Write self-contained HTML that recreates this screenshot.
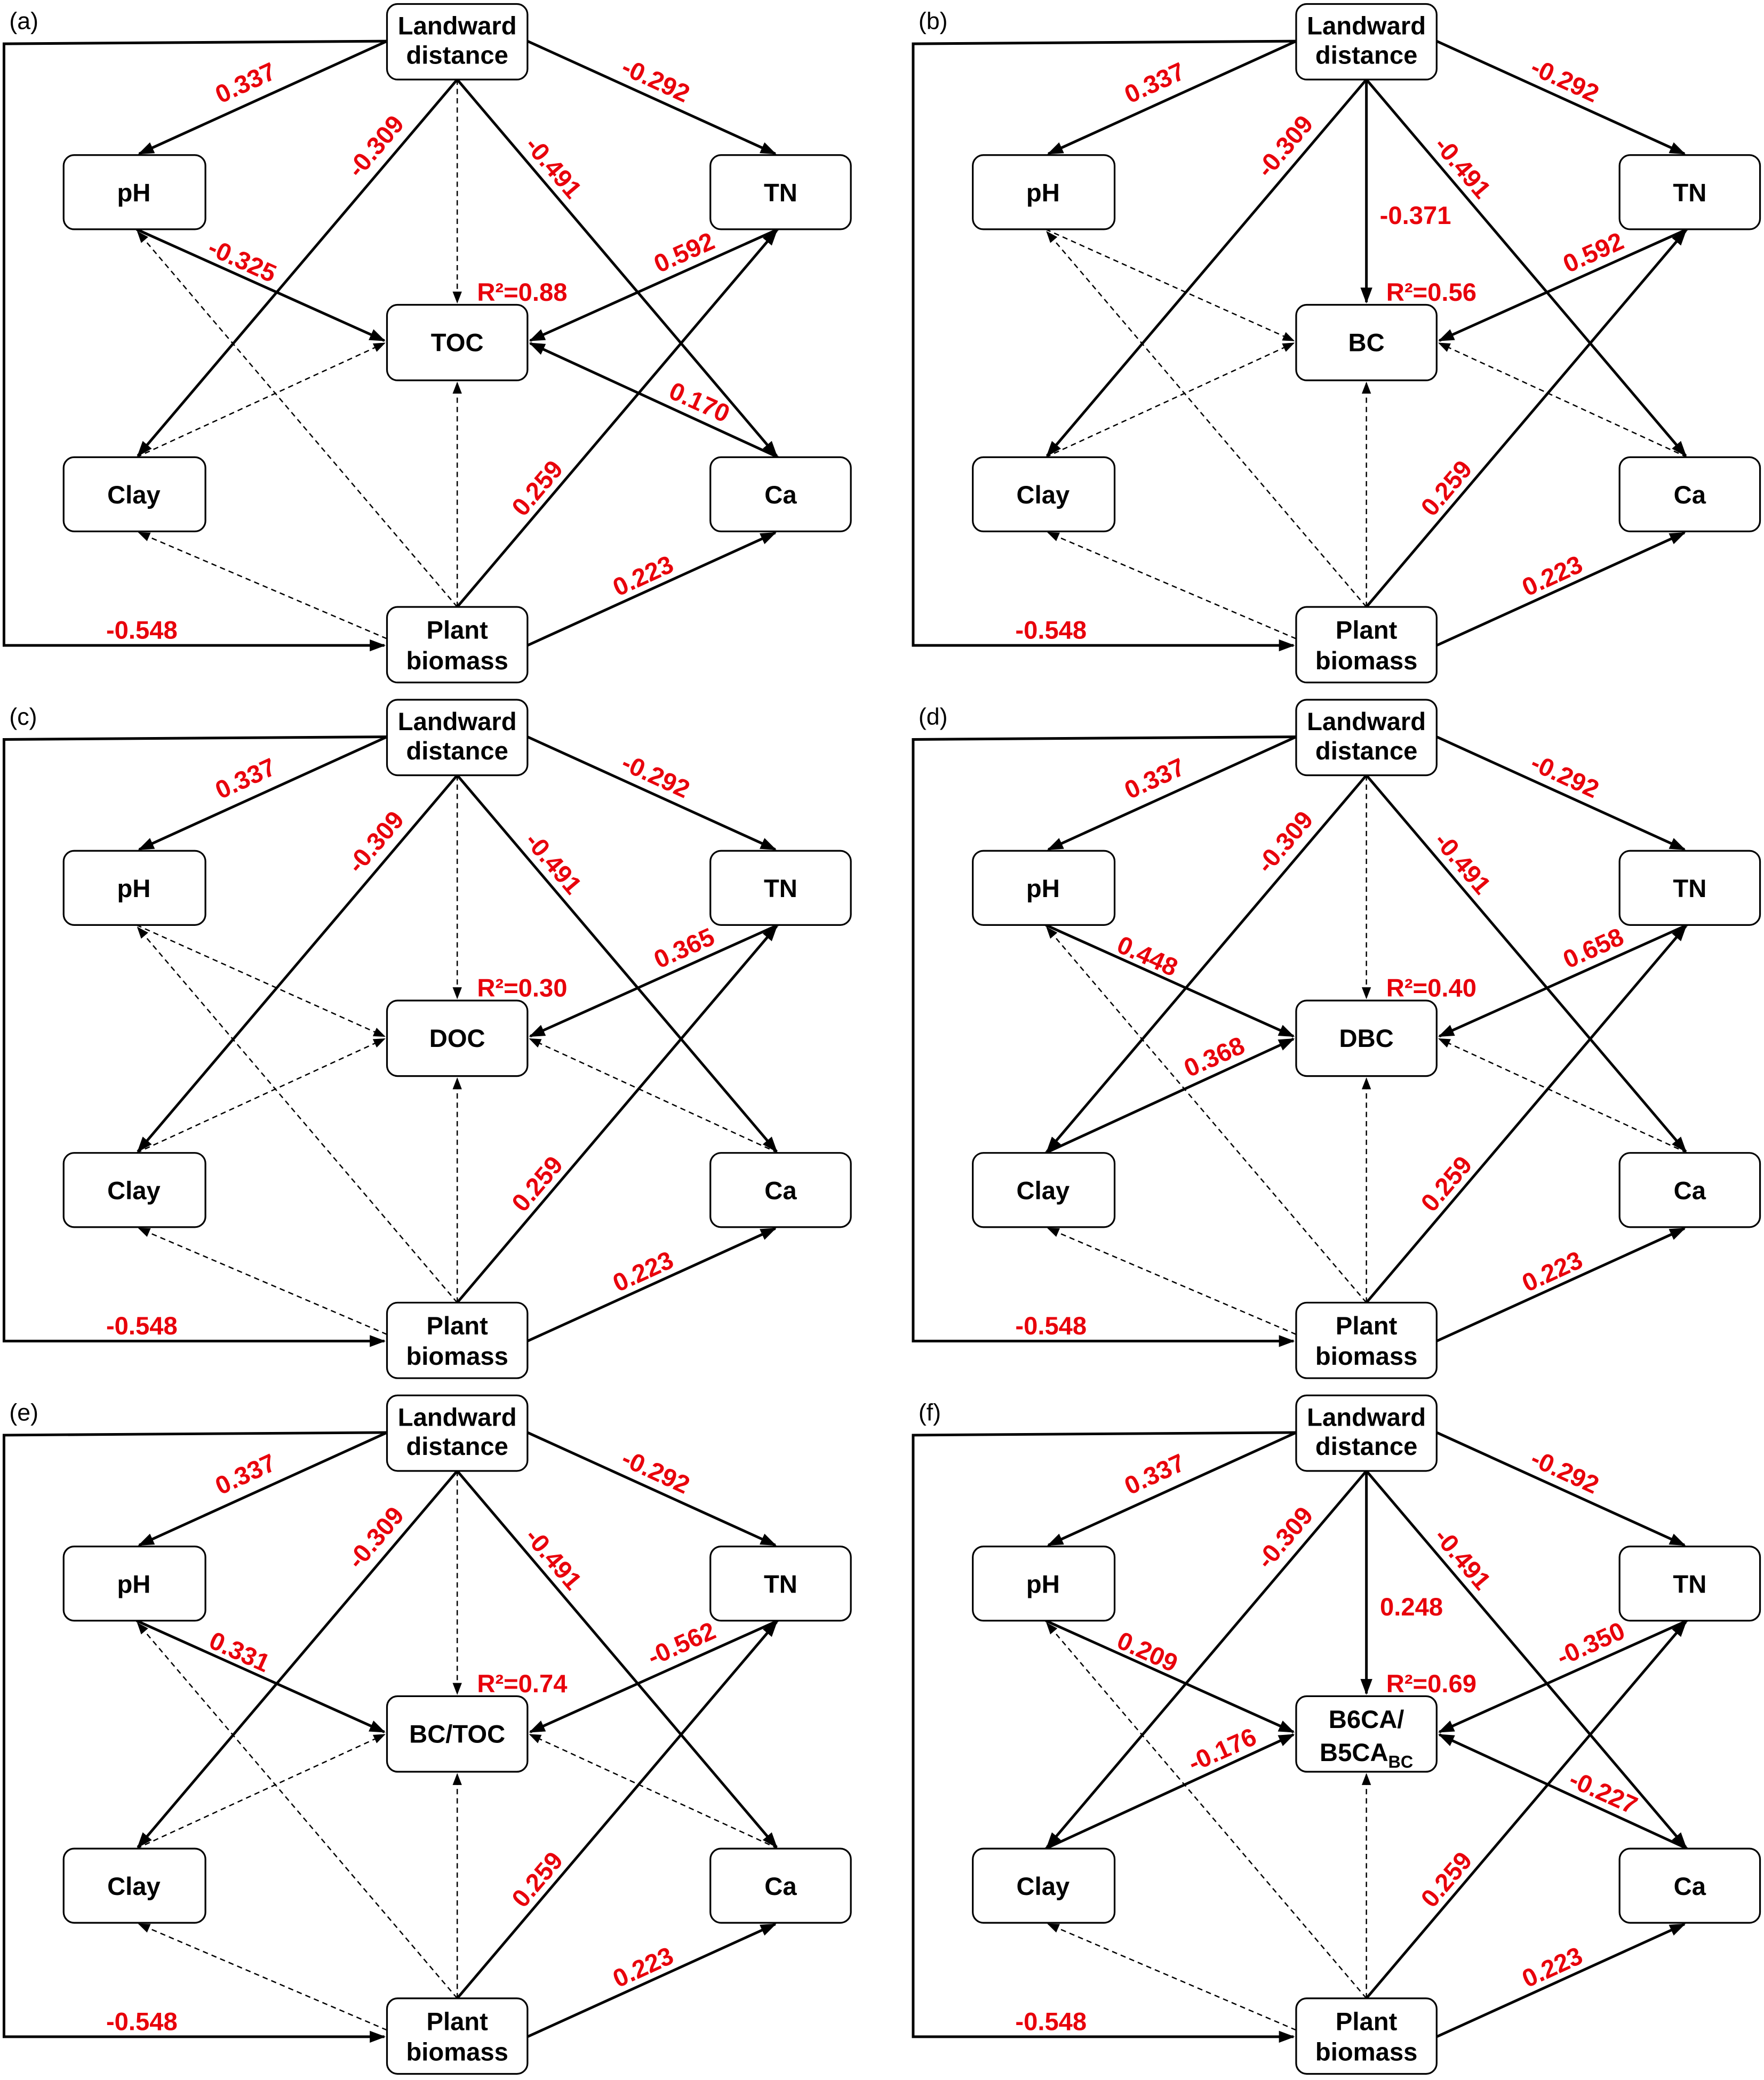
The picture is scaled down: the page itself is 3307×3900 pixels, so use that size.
<!DOCTYPE html>
<html><head><meta charset="utf-8"><style>
html,body{margin:0;padding:0;background:#fff;}
svg{display:block;}
.n{font-family:"Liberation Sans",Arial,sans-serif;font-weight:bold;font-size:19px;fill:#000;text-anchor:middle;}
.r{font-family:"Liberation Sans",Arial,sans-serif;font-weight:bold;font-size:19px;fill:#e8000b;text-anchor:middle;}
.p{font-family:"Liberation Sans",Arial,sans-serif;font-size:18px;fill:#000;}
.s{stroke:#000;stroke-width:2;fill:none;marker-end:url(#A);}
.d{stroke:#000;stroke-width:1;fill:none;stroke-dasharray:4,3;marker-end:url(#B);}
.b{fill:#fff;stroke:#000;stroke-width:1.3;}
</style></head><body>
<svg width="3307" height="3900" viewBox="0 0 1331 1569.6" xmlns="http://www.w3.org/2000/svg">
<defs>
<marker id="A" markerUnits="userSpaceOnUse" markerWidth="12" markerHeight="10" refX="11" refY="4.5" orient="auto"><path d="M0,0 L12,4.5 L0,9 z" fill="#000"/></marker>
<marker id="B" markerUnits="userSpaceOnUse" markerWidth="9" markerHeight="7" refX="8" refY="3.5" orient="auto"><path d="M0,0 L9,3.5 L0,7 z" fill="#000"/></marker>
<g id="common">
<path class="s" d="M292,31 L105,116"/>
<path class="s" d="M398,31 L585,116"/>
<path class="s" d="M345,60 L104,344"/>
<path class="s" d="M345,60 L586,344"/>
<path class="s" d="M292,31 L3,33 L3,487 L290,487"/>
<path class="s" d="M345,458 L586,174"/>
<path class="s" d="M398,487 L585,402"/>
<path class="d" d="M345,458 L345,289"/>
<path class="d" d="M345,458 L104,175"/>
<path class="d" d="M292,482 L105,402"/>
</g>
<g id="boxes">
<rect class="b" x="292" y="3" width="106" height="57" rx="8"/>
<rect class="b" x="48" y="117" width="107" height="56" rx="8"/>
<rect class="b" x="536" y="117" width="106" height="56" rx="8"/>
<rect class="b" x="292" y="230" width="106" height="57" rx="8"/>
<rect class="b" x="48" y="345" width="107" height="56" rx="8"/>
<rect class="b" x="536" y="345" width="106" height="56" rx="8"/>
<rect class="b" x="292" y="458" width="106" height="57" rx="8"/>
</g>
</defs>

<!-- (a) -->
<g transform="translate(0,0)">
<use href="#common"/>
<path class="s" d="M103,173 L290,257"/>
<path class="d" d="M103,345 L290,259"/>
<path class="s" d="M587,173 L400,257"/>
<path class="s" d="M587,345 L400,259"/>
<path class="d" d="M345,60 L345,228"/>
<use href="#boxes"/>
<text class="p" x="7" y="22">(a)</text>
<text class="n" x="345" y="26">Landward</text><text class="n" x="345" y="48">distance</text>
<text class="n" x="101" y="152">pH</text><text class="n" x="589" y="152">TN</text>
<text class="n" x="345" y="265">TOC</text>
<text class="n" x="101" y="380">Clay</text><text class="n" x="589" y="380">Ca</text>
<text class="n" x="345" y="482">Plant</text><text class="n" x="345" y="505">biomass</text>
<text class="r" transform="translate(185,62) rotate(-24.7)" y="7">0.337</text>
<text class="r" transform="translate(495,60) rotate(24.7)" y="7">-0.292</text>
<text class="r" transform="translate(283,110) rotate(-49.7)" y="7">-0.309</text>
<text class="r" transform="translate(418,126) rotate(49.7)" y="7">-0.491</text>
<text class="r" transform="translate(405,368) rotate(-49.7)" y="7">0.259</text>
<text class="r" transform="translate(485,434) rotate(-24.5)" y="7">0.223</text>
<text class="r" x="107" y="482">-0.548</text>
<text class="r" x="394" y="227">R²=0.88</text>
<text class="r" transform="translate(183,196) rotate(24.2)" y="7">-0.325</text>
<text class="r" transform="translate(516,190) rotate(-24.2)" y="7">0.592</text>
<text class="r" transform="translate(528,303) rotate(24.2)" y="7">0.170</text>
</g>

<!-- (b) -->
<g transform="translate(686,0)">
<use href="#common"/>
<path class="d" d="M103,173 L290,257"/>
<path class="d" d="M103,345 L290,259"/>
<path class="s" d="M587,173 L400,257"/>
<path class="d" d="M587,345 L400,259"/>
<path class="s" d="M345,60 L345,228"/>
<use href="#boxes"/>
<text class="p" x="7" y="22">(b)</text>
<text class="n" x="345" y="26">Landward</text><text class="n" x="345" y="48">distance</text>
<text class="n" x="101" y="152">pH</text><text class="n" x="589" y="152">TN</text>
<text class="n" x="345" y="265">BC</text>
<text class="n" x="101" y="380">Clay</text><text class="n" x="589" y="380">Ca</text>
<text class="n" x="345" y="482">Plant</text><text class="n" x="345" y="505">biomass</text>
<text class="r" transform="translate(185,62) rotate(-24.7)" y="7">0.337</text>
<text class="r" transform="translate(495,60) rotate(24.7)" y="7">-0.292</text>
<text class="r" transform="translate(283,110) rotate(-49.7)" y="7">-0.309</text>
<text class="r" transform="translate(418,126) rotate(49.7)" y="7">-0.491</text>
<text class="r" transform="translate(405,368) rotate(-49.7)" y="7">0.259</text>
<text class="r" transform="translate(485,434) rotate(-24.5)" y="7">0.223</text>
<text class="r" x="107" y="482">-0.548</text>
<text class="r" x="394" y="227">R²=0.56</text>
<text class="r" x="382" y="169">-0.371</text>
<text class="r" transform="translate(516,190) rotate(-24.2)" y="7">0.592</text>
</g>

<!-- (c) -->
<g transform="translate(0,525)">
<use href="#common"/>
<path class="d" d="M103,173 L290,257"/>
<path class="d" d="M103,345 L290,259"/>
<path class="s" d="M587,173 L400,257"/>
<path class="d" d="M587,345 L400,259"/>
<path class="d" d="M345,60 L345,228"/>
<use href="#boxes"/>
<text class="p" x="7" y="22">(c)</text>
<text class="n" x="345" y="26">Landward</text><text class="n" x="345" y="48">distance</text>
<text class="n" x="101" y="152">pH</text><text class="n" x="589" y="152">TN</text>
<text class="n" x="345" y="265">DOC</text>
<text class="n" x="101" y="380">Clay</text><text class="n" x="589" y="380">Ca</text>
<text class="n" x="345" y="482">Plant</text><text class="n" x="345" y="505">biomass</text>
<text class="r" transform="translate(185,62) rotate(-24.7)" y="7">0.337</text>
<text class="r" transform="translate(495,60) rotate(24.7)" y="7">-0.292</text>
<text class="r" transform="translate(283,110) rotate(-49.7)" y="7">-0.309</text>
<text class="r" transform="translate(418,126) rotate(49.7)" y="7">-0.491</text>
<text class="r" transform="translate(405,368) rotate(-49.7)" y="7">0.259</text>
<text class="r" transform="translate(485,434) rotate(-24.5)" y="7">0.223</text>
<text class="r" x="107" y="482">-0.548</text>
<text class="r" x="394" y="227">R²=0.30</text>
<text class="r" transform="translate(516,190) rotate(-24.2)" y="7">0.365</text>
</g>

<!-- (d) -->
<g transform="translate(686,525)">
<use href="#common"/>
<path class="s" d="M103,173 L290,257"/>
<path class="s" d="M103,345 L290,259"/>
<path class="s" d="M587,173 L400,257"/>
<path class="d" d="M587,345 L400,259"/>
<path class="d" d="M345,60 L345,228"/>
<use href="#boxes"/>
<text class="p" x="7" y="22">(d)</text>
<text class="n" x="345" y="26">Landward</text><text class="n" x="345" y="48">distance</text>
<text class="n" x="101" y="152">pH</text><text class="n" x="589" y="152">TN</text>
<text class="n" x="345" y="265">DBC</text>
<text class="n" x="101" y="380">Clay</text><text class="n" x="589" y="380">Ca</text>
<text class="n" x="345" y="482">Plant</text><text class="n" x="345" y="505">biomass</text>
<text class="r" transform="translate(185,62) rotate(-24.7)" y="7">0.337</text>
<text class="r" transform="translate(495,60) rotate(24.7)" y="7">-0.292</text>
<text class="r" transform="translate(283,110) rotate(-49.7)" y="7">-0.309</text>
<text class="r" transform="translate(418,126) rotate(49.7)" y="7">-0.491</text>
<text class="r" transform="translate(405,368) rotate(-49.7)" y="7">0.259</text>
<text class="r" transform="translate(485,434) rotate(-24.5)" y="7">0.223</text>
<text class="r" x="107" y="482">-0.548</text>
<text class="r" x="394" y="227">R²=0.40</text>
<text class="r" transform="translate(180,196) rotate(24.2)" y="7">0.448</text>
<text class="r" transform="translate(230,272) rotate(-24.2)" y="7">0.368</text>
<text class="r" transform="translate(516,190) rotate(-24.2)" y="7">0.658</text>
</g>

<!-- (e) -->
<g transform="translate(0,1050)">
<use href="#common"/>
<path class="s" d="M103,173 L290,257"/>
<path class="d" d="M103,345 L290,259"/>
<path class="s" d="M587,173 L400,257"/>
<path class="d" d="M587,345 L400,259"/>
<path class="d" d="M345,60 L345,228"/>
<use href="#boxes"/>
<text class="p" x="7" y="22">(e)</text>
<text class="n" x="345" y="26">Landward</text><text class="n" x="345" y="48">distance</text>
<text class="n" x="101" y="152">pH</text><text class="n" x="589" y="152">TN</text>
<text class="n" x="345" y="265">BC/TOC</text>
<text class="n" x="101" y="380">Clay</text><text class="n" x="589" y="380">Ca</text>
<text class="n" x="345" y="482">Plant</text><text class="n" x="345" y="505">biomass</text>
<text class="r" transform="translate(185,62) rotate(-24.7)" y="7">0.337</text>
<text class="r" transform="translate(495,60) rotate(24.7)" y="7">-0.292</text>
<text class="r" transform="translate(283,110) rotate(-49.7)" y="7">-0.309</text>
<text class="r" transform="translate(418,126) rotate(49.7)" y="7">-0.491</text>
<text class="r" transform="translate(405,368) rotate(-49.7)" y="7">0.259</text>
<text class="r" transform="translate(485,434) rotate(-24.5)" y="7">0.223</text>
<text class="r" x="107" y="482">-0.548</text>
<text class="r" x="394" y="227">R²=0.74</text>
<text class="r" transform="translate(181,196) rotate(24.2)" y="7">0.331</text>
<text class="r" transform="translate(514,190) rotate(-24.2)" y="7">-0.562</text>
</g>

<!-- (f) -->
<g transform="translate(686,1050)">
<use href="#common"/>
<path class="s" d="M103,173 L290,257"/>
<path class="s" d="M103,345 L290,259"/>
<path class="s" d="M587,173 L400,257"/>
<path class="s" d="M587,345 L400,259"/>
<path class="s" d="M345,60 L345,228"/>
<use href="#boxes"/>
<text class="p" x="7" y="22">(f)</text>
<text class="n" x="345" y="26">Landward</text><text class="n" x="345" y="48">distance</text>
<text class="n" x="101" y="152">pH</text><text class="n" x="589" y="152">TN</text>
<text class="n" x="345" y="254">B6CA/</text>
<text class="n" x="345" y="279">B5CA<tspan font-size="13" dy="5">BC</tspan></text>
<text class="n" x="101" y="380">Clay</text><text class="n" x="589" y="380">Ca</text>
<text class="n" x="345" y="482">Plant</text><text class="n" x="345" y="505">biomass</text>
<text class="r" transform="translate(185,62) rotate(-24.7)" y="7">0.337</text>
<text class="r" transform="translate(495,60) rotate(24.7)" y="7">-0.292</text>
<text class="r" transform="translate(283,110) rotate(-49.7)" y="7">-0.309</text>
<text class="r" transform="translate(418,126) rotate(49.7)" y="7">-0.491</text>
<text class="r" transform="translate(405,368) rotate(-49.7)" y="7">0.259</text>
<text class="r" transform="translate(485,434) rotate(-24.5)" y="7">0.223</text>
<text class="r" x="107" y="482">-0.548</text>
<text class="r" x="394" y="227">R²=0.69</text>
<text class="r" x="379" y="169">0.248</text>
<text class="r" transform="translate(180,196) rotate(24.2)" y="7">0.209</text>
<text class="r" transform="translate(236,270) rotate(-24.2)" y="7">-0.176</text>
<text class="r" transform="translate(514,190) rotate(-24.2)" y="7">-0.350</text>
<text class="r" transform="translate(524,302) rotate(24.2)" y="7">-0.227</text>
</g>
</svg>
</body></html>
